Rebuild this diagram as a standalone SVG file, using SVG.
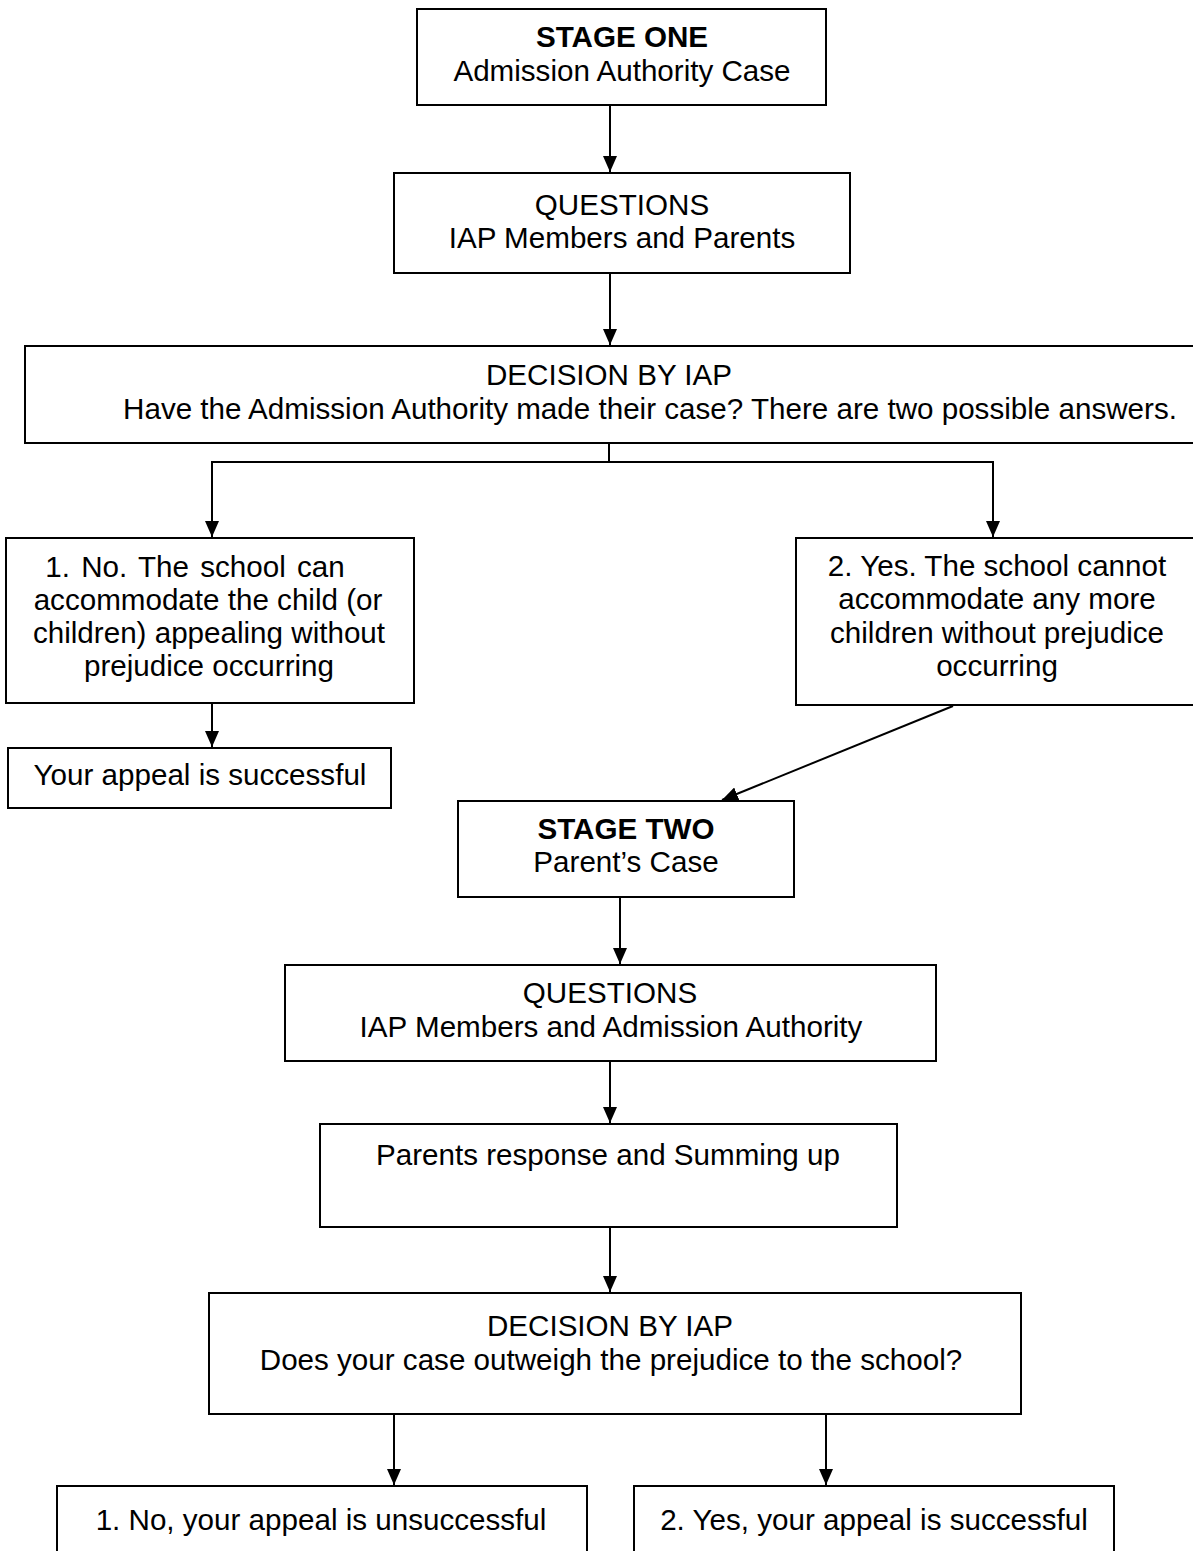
<svg xmlns="http://www.w3.org/2000/svg" width="1193" height="1551" viewBox="0 0 1193 1551">
<style>
  .box { fill: #ffffff; stroke: #000000; stroke-width: 2; }
  .t { font-family: "Liberation Sans", Arial, sans-serif; font-size: 29.6px; fill: #000000; text-anchor: middle; }
  .b { font-weight: bold; }
  .c { fill: none; stroke: #000000; stroke-width: 2; }
</style>
<defs>
  <marker id="ah" viewBox="0 0 10 10" refX="10" refY="5" markerWidth="16" markerHeight="14" markerUnits="userSpaceOnUse" orient="auto" preserveAspectRatio="none">
    <path d="M0,0 L10,5 L0,10 z" fill="#000000"/>
  </marker>
</defs>
<rect x="0" y="0" width="1193" height="1551" fill="#ffffff"/>

<g id="connectors">
  <line class="c" x1="610" y1="105" x2="610" y2="172" marker-end="url(#ah)"/>
  <line class="c" x1="610" y1="273" x2="610" y2="345" marker-end="url(#ah)"/>
  <polyline class="c" points="609,443 609,462 212,462 212,537" marker-end="url(#ah)"/>
  <polyline class="c" points="609,462 993,462 993,537" marker-end="url(#ah)"/>
  <line class="c" x1="212" y1="703" x2="212" y2="747" marker-end="url(#ah)"/>
  <line class="c" x1="953" y1="706" x2="722" y2="800" marker-end="url(#ah)"/>
  <line class="c" x1="620" y1="897" x2="620" y2="964" marker-end="url(#ah)"/>
  <line class="c" x1="610" y1="1061" x2="610" y2="1123" marker-end="url(#ah)"/>
  <line class="c" x1="610" y1="1227" x2="610" y2="1292" marker-end="url(#ah)"/>
  <line class="c" x1="394" y1="1414" x2="394" y2="1485" marker-end="url(#ah)"/>
  <line class="c" x1="826" y1="1414" x2="826" y2="1485" marker-end="url(#ah)"/>
</g>

<g id="stage-one">
  <rect class="box" x="417" y="9" width="409" height="96"/>
  <text class="t b" x="622" y="47">STAGE ONE</text>
  <text class="t" x="622" y="81">Admission Authority Case</text>
</g>

<g id="questions-1">
  <rect class="box" x="394" y="173" width="456" height="100"/>
  <text class="t" x="622" y="215">QUESTIONS</text>
  <text class="t" x="622" y="248">IAP Members and Parents</text>
</g>

<g id="decision-1">
  <rect class="box" x="25" y="346" width="1175" height="97"/>
  <text class="t" x="609" y="385">DECISION BY IAP</text>
  <text class="t" x="650" y="419">Have the Admission Authority made their case? There are two possible answers.</text>
</g>

<g id="answer-no">
  <rect class="box" x="6" y="538" width="408" height="165"/>
  <text class="t" x="195" y="577" word-spacing="3">1. No. The school can</text>
  <text class="t" x="208" y="610">accommodate the child (or</text>
  <text class="t" x="209" y="643">children) appealing without</text>
  <text class="t" x="209" y="676">prejudice occurring</text>
</g>

<g id="answer-yes">
  <rect class="box" x="796" y="538" width="404" height="167"/>
  <text class="t" x="997" y="576">2. Yes. The school cannot</text>
  <text class="t" x="997" y="609">accommodate any more</text>
  <text class="t" x="997" y="643">children without prejudice</text>
  <text class="t" x="997" y="676">occurring</text>
</g>

<g id="successful-1">
  <rect class="box" x="8" y="748" width="383" height="60"/>
  <text class="t" x="200" y="785">Your appeal is successful</text>
</g>

<g id="stage-two">
  <rect class="box" x="458" y="801" width="336" height="96"/>
  <text class="t b" x="626" y="839">STAGE TWO</text>
  <text class="t" x="626" y="872">Parent’s Case</text>
</g>

<g id="questions-2">
  <rect class="box" x="285" y="965" width="651" height="96"/>
  <text class="t" x="610" y="1003">QUESTIONS</text>
  <text class="t" x="611" y="1037">IAP Members and Admission Authority</text>
</g>

<g id="summing-up">
  <rect class="box" x="320" y="1124" width="577" height="103"/>
  <text class="t" x="608" y="1165">Parents response and Summing up</text>
</g>

<g id="decision-2">
  <rect class="box" x="209" y="1293" width="812" height="121"/>
  <text class="t" x="610" y="1336">DECISION BY IAP</text>
  <text class="t" x="611" y="1370">Does your case outweigh the prejudice to the school?</text>
</g>

<g id="result-no">
  <rect class="box" x="57" y="1486" width="530" height="80"/>
  <text class="t" x="321" y="1530">1. No, your appeal is unsuccessful</text>
</g>

<g id="result-yes">
  <rect class="box" x="634" y="1486" width="480" height="80"/>
  <text class="t" x="874" y="1530">2. Yes, your appeal is successful</text>
</g>
</svg>
